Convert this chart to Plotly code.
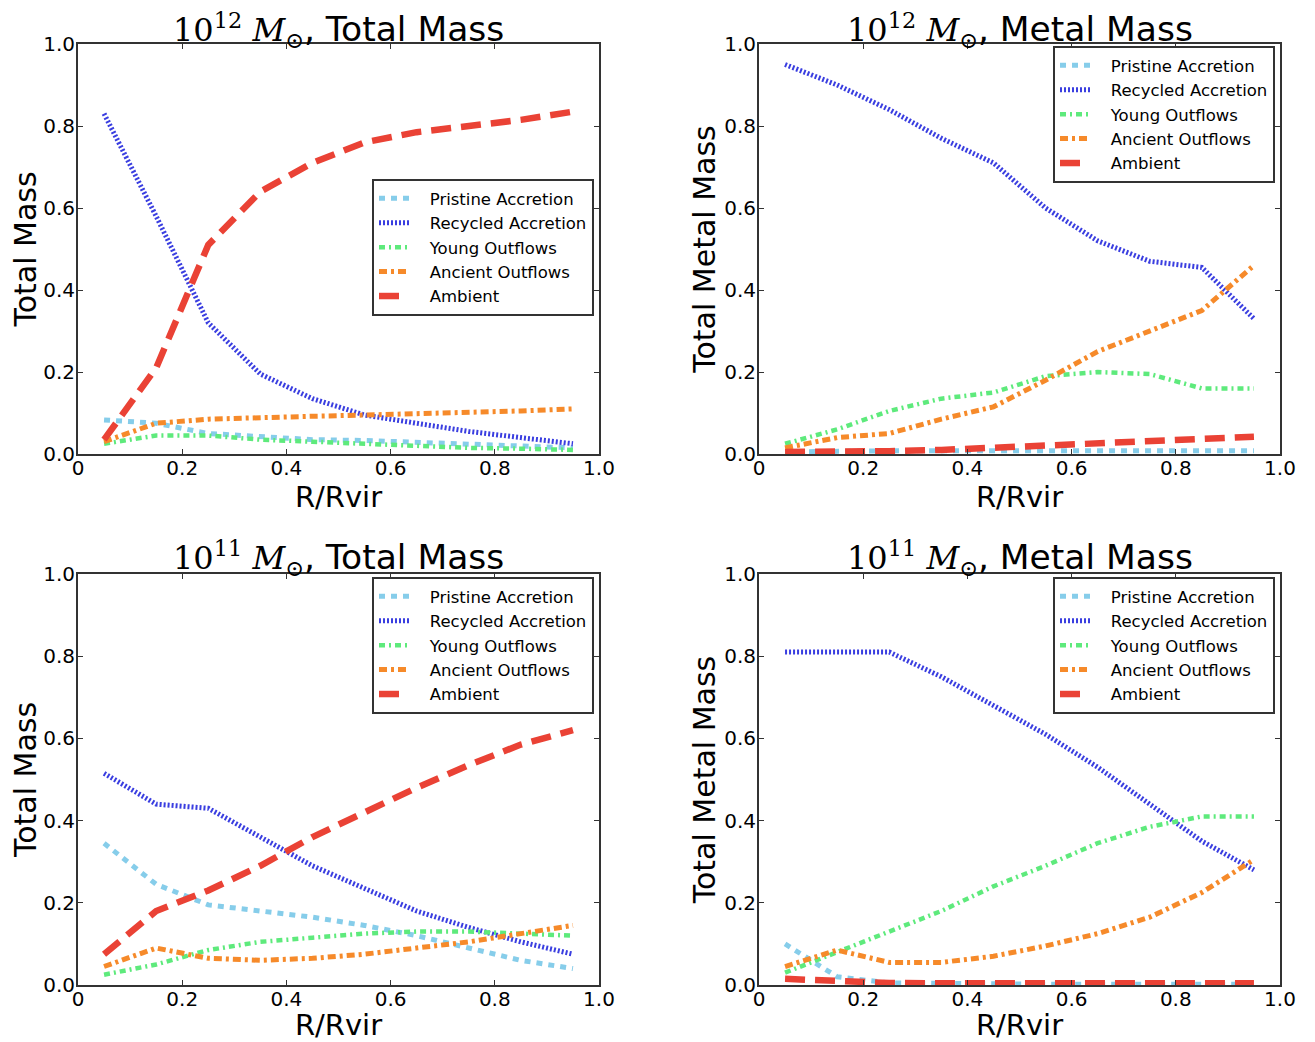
import plotly.graph_objects as go

R = [0.05, 0.15, 0.25, 0.35, 0.45, 0.55, 0.65, 0.75, 0.85, 0.95]
series_names = ["Pristine Accretion", "Recycled Accretion", "Young Outflows", "Ancient Outflows", "Ambient"]

# 10^12 Msun, total mass
tm12_pristine = [0.083, 0.075, 0.050, 0.042, 0.035, 0.033, 0.028, 0.025, 0.020, 0.015]
tm12_recycled = [0.830, 0.580, 0.320, 0.195, 0.135, 0.095, 0.075, 0.055, 0.040, 0.025]
tm12_young = [0.025, 0.045, 0.045, 0.035, 0.030, 0.025, 0.020, 0.015, 0.013, 0.010]
tm12_ancient = [0.030, 0.075, 0.085, 0.090, 0.092, 0.095, 0.098, 0.100, 0.105, 0.110]
tm12_ambient = [0.035, 0.210, 0.510, 0.640, 0.710, 0.760, 0.785, 0.800, 0.815, 0.835]

# 10^12 Msun, metal mass
mm12_pristine = [0.005, 0.008, 0.008, 0.008, 0.008, 0.008, 0.008, 0.008, 0.008, 0.008]
mm12_recycled = [0.950, 0.900, 0.840, 0.770, 0.710, 0.600, 0.520, 0.470, 0.455, 0.330]
mm12_young = [0.025, 0.060, 0.105, 0.135, 0.150, 0.190, 0.200, 0.195, 0.160, 0.160]
mm12_ancient = [0.015, 0.040, 0.050, 0.085, 0.115, 0.180, 0.250, 0.300, 0.350, 0.460]
mm12_ambient = [0.005, 0.005, 0.007, 0.010, 0.015, 0.020, 0.027, 0.032, 0.037, 0.042]

# 10^11 Msun, total mass
tm11_pristine = [0.345, 0.245, 0.195, 0.180, 0.165, 0.145, 0.120, 0.090, 0.060, 0.040]
tm11_recycled = [0.515, 0.440, 0.430, 0.360, 0.290, 0.235, 0.180, 0.140, 0.105, 0.075]
tm11_young = [0.025, 0.050, 0.085, 0.105, 0.115, 0.125, 0.130, 0.130, 0.125, 0.120]
tm11_ancient = [0.045, 0.090, 0.065, 0.060, 0.065, 0.075, 0.090, 0.105, 0.125, 0.145]
tm11_ambient = [0.075, 0.180, 0.230, 0.290, 0.360, 0.420, 0.480, 0.535, 0.585, 0.620]

# 10^11 Msun, metal mass
mm11_pristine = [0.100, 0.020, 0.005, 0.003, 0.002, 0.002, 0.002, 0.002, 0.002, 0.002]
mm11_recycled = [0.810, 0.810, 0.810, 0.750, 0.680, 0.610, 0.530, 0.440, 0.350, 0.280]
mm11_young = [0.030, 0.080, 0.130, 0.180, 0.240, 0.290, 0.345, 0.385, 0.410, 0.410]
mm11_ancient = [0.045, 0.085, 0.055, 0.055, 0.070, 0.095, 0.125, 0.165, 0.225, 0.305]
mm11_ambient = [0.015, 0.010, 0.005, 0.004, 0.004, 0.004, 0.004, 0.004, 0.004, 0.004]

x_ticks = [0, 0.2, 0.4, 0.6, 0.8, 1.0]
x_ticktext = ["0", "0.2", "0.4", "0.6", "0.8", "1.0"]
y_ticks = [0, 0.2, 0.4, 0.6, 0.8, 1.0]
y_ticktext = ["0.0", "0.2", "0.4", "0.6", "0.8", "1.0"]

panels = [
    dict(data=[tm12_pristine, tm12_recycled, tm12_young, tm12_ancient, tm12_ambient],
         exp="12", kind="Total Mass", ylabel="Total Mass"),
    dict(data=[mm12_pristine, mm12_recycled, mm12_young, mm12_ancient, mm12_ambient],
         exp="12", kind="Metal Mass", ylabel="Total Metal Mass"),
    dict(data=[tm11_pristine, tm11_recycled, tm11_young, tm11_ancient, tm11_ambient],
         exp="11", kind="Total Mass", ylabel="Total Mass"),
    dict(data=[mm11_pristine, mm11_recycled, mm11_young, mm11_ancient, mm11_ambient],
         exp="11", kind="Metal Mass", ylabel="Total Metal Mass"),
]

styles = [
    dict(color="#86cdea", width=5, dash="6px,6px"),
    dict(color="#3a3ee0", width=5, dash="2px,2px"),
    dict(color="#5eea7c", width=4.5, dash="6px,4px,2px,4px"),
    dict(color="#f68a2a", width=5, dash="8px,4px,3px,4px"),
    dict(color="#ea4235", width=6.5, dash="20px,10px"),
]

OFF = 8  # page body margin
W, H = 1315 - OFF, 1042 - OFF
# page-pixel boxes of each axes: (left, right, top, bottom)
boxes = [(78, 599, 44, 454), (759, 1280, 44, 454), (78, 599, 574, 985), (759, 1280, 574, 985)]
legend_pos = [(372, 179), (1053, 46), (372, 577), (1053, 577)]
title_y = [30, 30, 558, 558]

def px(v):
    return (v - OFF) / W

def py(v):
    return 1 - (v - OFF) / H

fig = go.Figure()
layout = dict(width=W, height=H, margin=dict(l=0, r=0, t=0, b=0, autoexpand=False),
              paper_bgcolor="white", plot_bgcolor="white",
              font=dict(family="DejaVu Sans", color="black"), annotations=[])

pad = "\u00a0\u00a0\u00a0"
for i, p in enumerate(panels):
    k = "" if i == 0 else str(i + 1)
    lg = "legend" if i == 0 else "legend" + str(i + 1)
    for name, ys, st in zip(series_names, p["data"], styles):
        fig.add_trace(go.Scatter(x=R, y=ys, mode="lines", name=pad + name, line=st,
                                 xaxis="x" + k, yaxis="y" + k, legend=lg))
    l, r, t, b = boxes[i]
    axstyle = dict(showline=True, linecolor="#333", linewidth=2, mirror="ticks",
                   ticks="inside", ticklen=5, tickwidth=1.2, tickcolor="#333",
                   showgrid=False, zeroline=False, range=[0, 1], automargin=False,
                   tickfont=dict(size=20, family="DejaVu Sans"))
    layout["xaxis" + k] = dict(axstyle, domain=[px(l), px(r)], anchor="y" + k,
                               tickvals=x_ticks, ticktext=x_ticktext, ticklabelstandoff=-5,
                               title=dict(text="R/Rvir", font=dict(size=29), standoff=0))
    layout["yaxis" + k] = dict(axstyle, domain=[py(b), py(t)], anchor="x" + k,
                               tickvals=y_ticks, ticktext=y_ticktext, ticklabelstandoff=-3,
                               title=dict(text=p["ylabel"], font=dict(size=30), standoff=0))
    lx, ly = legend_pos[i]
    layout[lg] = dict(x=px(lx), y=py(ly), xanchor="left", yanchor="top",
                      bgcolor="white", bordercolor="#333", borderwidth=2,
                      font=dict(size=16.5, family="DejaVu Sans"), tracegroupgap=0,
                      itemwidth=30)
    title = ('<span style="font-family:DejaVu Serif;font-size:32px">10<sup>' + p["exp"] +
             '</sup> <i>M</i><sub>⊙</sub></span>, ' + p["kind"])
    layout["annotations"].append(dict(text=title, xref="paper", yref="paper",
                                      x=px((l + r) / 2), y=py(title_y[i]),
                                      xanchor="center", yanchor="middle", showarrow=False,
                                      font=dict(size=34.5, family="DejaVu Sans")))

fig.update_layout(**layout)
fig.write_html("out.html")
